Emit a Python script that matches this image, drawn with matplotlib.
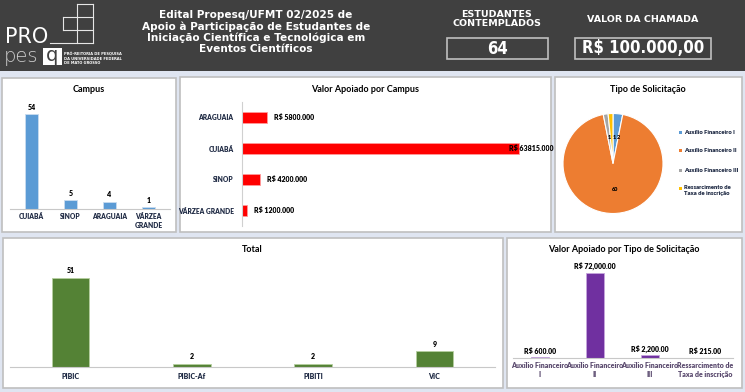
import matplotlib
matplotlib.use("Agg")
import matplotlib.pyplot as plt
from matplotlib.patches import Rectangle
from matplotlib.lines import Line2D
from matplotlib import font_manager as fm

# ---------------- data ----------------
campus_names = ["CUIABÁ", "SINOP", "ARAGUAIA", "VÁRZEA\nGRANDE"]
campus_counts = [54, 5, 4, 1]

valor_campus_names = ["ARAGUAIA", "CUIABÁ", "SINOP", "VÁRZEA GRANDE"]
valor_campus_values = [5800, 63815, 4200, 1200]
valor_campus_labels = ["R$ 5800.000", "R$ 63815.000", "R$ 4200.000", "R$ 1200.000"]

tipo_names = ["Auxílio Financeiro I", "Auxílio Financeiro II", "Auxílio Financeiro III",
              "Ressarcimento de\nTaxa de inscrição"]
tipo_counts = [2, 60, 1, 1]

total_names = ["PIBIC", "PIBIC-Af", "PIBITI", "VIC"]
total_counts = [51, 2, 2, 9]

valor_tipo_names = ["Auxílio Financeiro\nI", "Auxílio Financeiro\nII",
                    "Auxílio Financeiro\nIII", "Ressarcimento de\nTaxa de inscrição"]
valor_tipo_values = [600, 72000, 2200, 215]
valor_tipo_labels = ["R$ 600.00", "R$ 72,000.00", "R$ 2,200.00", "R$ 215.00"]

estudantes = "64"
valor_chamada = "R$ 100.000,00"
header_title = ("Edital Propesq/UFMT 02/2025 de\nApoio à Participação de Estudantes de\n"
                "Iniciação Científica e Tecnológica em\nEventos Científicos")

# ---------------- figure ----------------
W, H = 745, 392
fig = plt.figure(figsize=(W / 100, H / 100), dpi=100)
fig.patch.set_facecolor("#dfe5f1")
FONT = ["Lato", "DejaVu Sans"]
HFONT = ["DejaVu Sans"]
plt.rcParams["font.family"] = FONT
BW = "heavy"

# condensed font for header numbers if available
_p = fm.findfont(fm.FontProperties(family="DejaVu Sans", stretch="condensed",
                                   weight="bold"), fallback_to_default=True)
COND = "condensed" in _p.lower()


def fx(x):
    return x / W


def fy(y):
    return 1 - y / H


def rect_px(x, y, w, h):
    return [x / W, 1 - (y + h) / H, w / W, h / H]


def add_axes(r):
    a = fig.add_axes(r)
    a.set_zorder(5)
    a.set_facecolor("none")
    return a


def panel(x, y, w, h):
    fig.patches.append(Rectangle((x / W, 1 - (y + h) / H), w / W, h / H,
                                 transform=fig.transFigure, facecolor="white",
                                 edgecolor="#bfbfbf", linewidth=1.2, zorder=0))


# header
fig.patches.append(Rectangle((0, fy(71)), 1, 71 / H, transform=fig.transFigure,
                             facecolor="#404040", edgecolor="none", zorder=0))

# logo lines
lc = "#e6e6e6"
segs = [((77, 4), (77, 43)), ((93, 4), (93, 43)), ((77, 4), (93, 4)),
        ((63, 17), (93, 17)), ((63, 30), (93, 30)), ((63, 17), (63, 30)),
        ((50, 43), (93, 43))]
for (x0, y0), (x1, y1) in segs:
    fig.lines.append(Line2D([fx(x0), fx(x1)], [fy(y0), fy(y1)], transform=fig.transFigure,
                            color=lc, linewidth=0.8, zorder=2))
fig.text(fx(5), fy(43), "PRO", color="white", fontsize=15, family=HFONT,
         ha="left", va="baseline")
fig.text(fx(4), fy(62), "pes", color="#cfcfcf", fontsize=14, family=HFONT,
         fontweight="light", ha="left", va="baseline")
fig.patches.append(Rectangle((fx(43), fy(65)), 19 / W, 17 / H, transform=fig.transFigure,
                             facecolor="white", edgecolor="none", zorder=1))
fig.text(fx(52.5), fy(61), "q", color="#404040", fontsize=14, family=HFONT,
         ha="center", va="baseline")
fig.text(fx(64), fy(59), "PRÓ-REITORIA DE PESQUISA\nDA UNIVERSIDADE FEDERAL\nDE MATO GROSSO",
         color="white", fontsize=2.6, fontweight="bold", family=HFONT, ha="left",
         va="center", linespacing=1.1)

fig.text(fx(256), fy(32), header_title, color="white", fontsize=7.6, fontweight="bold",
         family=HFONT, ha="center", va="center", linespacing=1.12)
fig.text(fx(497), fy(19), "ESTUDANTES\nCONTEMPLADOS", color="white", fontsize=6.8,
         fontweight="bold", family=HFONT, ha="center", va="center", linespacing=1.05)
fig.text(fx(643), fy(19), "VALOR DA CHAMADA", color="white", fontsize=6.8,
         fontweight="bold", family=HFONT, ha="center", va="center")
for (x0, x1, txt) in [(447, 548, estudantes), (575, 711, valor_chamada)]:
    fig.patches.append(Rectangle((fx(x0), fy(59)), (x1 - x0) / W, 21 / H,
                                 transform=fig.transFigure, facecolor="none",
                                 edgecolor="#bfbfbf", linewidth=1.2, zorder=1))
    if COND:
        fig.text(fx((x0 + x1) / 2), fy(48.5), txt, color="white", fontsize=12,
                 fontweight="bold", family=HFONT, stretch="condensed",
                 ha="center", va="center")
    else:
        fig.text(fx((x0 + x1) / 2), fy(48.5), txt, color="white", fontsize=10.5,
                 fontweight="bold", family=HFONT, ha="center", va="center")

# panels
panel(2, 78, 174, 154)
panel(180, 77, 371, 155)
panel(555, 77, 187, 155)
panel(3, 238, 500, 150)
panel(507, 238, 235, 150)

TS = 6.5
LS = 4.8

# ---------------- Campus ----------------
fig.text(fx(89), fy(89), "Campus", fontsize=TS, fontweight="bold", ha="center", va="center")
ax = add_axes(rect_px(10, 100, 160, 109))
xs = range(len(campus_names))
ax.bar(xs, campus_counts, width=0.32, color="#5b9bd5", edgecolor="#c9dcf0", linewidth=0.6)
for x, v in zip(xs, campus_counts):
    ax.text(x, v + 2, str(v), ha="center", va="bottom", fontsize=5, fontweight=BW)
ax.set_xlim(-0.55, 3.55)
ax.set_ylim(0, 62)
ax.set_xticks(list(xs))
ax.set_xticklabels(campus_names, fontsize=LS, fontweight=BW, color="#1f2a44",
                   linespacing=1.3)
ax.tick_params(axis="x", length=0, pad=3)
ax.set_yticks([])
for s in ["top", "right", "left"]:
    ax.spines[s].set_visible(False)
ax.spines["bottom"].set_color("#c8c8c8")

# ---------------- Valor Apoiado por Campus ----------------
fig.text(fx(365), fy(89), "Valor Apoiado por Campus", fontsize=TS, fontweight="bold",
         ha="center", va="center")
ax = add_axes(rect_px(242, 102, 300, 124))
ys = range(len(valor_campus_names))
ax.barh(ys, valor_campus_values, height=0.36, color="#ff0000", edgecolor="#ff9a9a",
        linewidth=0.6)
for y, v, lab in zip(ys, valor_campus_values, valor_campus_labels):
    ax.text(v + 1500 if v < 60000 else v - 2500, y, lab, va="center", ha="left",
            fontsize=5, fontweight=BW)
ax.set_xlim(0, 69000)
ax.set_ylim(3.5, -0.5)
ax.set_yticks(list(ys))
ax.set_yticklabels(valor_campus_names, fontsize=LS, fontweight=BW, color="#1f2a44")
ax.tick_params(axis="y", length=0, pad=6)
ax.set_xticks([])
for s in ["top", "right", "bottom"]:
    ax.spines[s].set_visible(False)
ax.spines["left"].set_color("#d0d0d0")

# ---------------- Tipo de Solicitação ----------------
fig.text(fx(648), fy(90), "Tipo de Solicitação", fontsize=TS, fontweight="bold",
         ha="center", va="center")
ax = add_axes(rect_px(562, 112, 102, 103))
pie_colors = ["#5b9bd5", "#ed7d31", "#a5a5a5", "#ffc000"]
wedges, _ = ax.pie(tipo_counts, colors=pie_colors, startangle=90, counterclock=False,
                   wedgeprops=dict(edgecolor="white", linewidth=0.8))
ax.text(-0.07, 0.52, str(tipo_counts[2]), fontsize=4, fontweight=BW, ha="center",
        va="center")
ax.text(0.02, 0.52, str(tipo_counts[3]), fontsize=4, fontweight=BW, ha="center",
        va="center")
ax.text(0.11, 0.52, str(tipo_counts[0]), fontsize=4, fontweight=BW, ha="center",
        va="center")
ax.text(0.04, -0.52, str(tipo_counts[1]), fontsize=4, fontweight=BW, ha="center",
        va="center")
ax.set_xlim(-1.02, 1.02)
ax.set_ylim(-1.02, 1.02)
ax.set_aspect("equal")
leg_y = [132, 151, 170, 188]
for yy, col, name in zip(leg_y, pie_colors, tipo_names):
    fig.patches.append(Rectangle((fx(679), fy(yy + 1.5)), 3 / W, 3 / H,
                                 transform=fig.transFigure, facecolor=col,
                                 edgecolor="none", zorder=2))
    if "\n" in name:
        fig.text(fx(684), fy(185), name, fontsize=4.2, fontweight=BW, ha="left",
                 va="top", color="#1f2a44", linespacing=1.3)
    else:
        fig.text(fx(684), fy(yy), name, fontsize=4.2, fontweight=BW, ha="left",
                 va="center", color="#1f2a44")

# ---------------- Total ----------------
fig.text(fx(252), fy(250), "Total", fontsize=TS, fontweight="bold", ha="center",
         va="center")
ax = add_axes(rect_px(10, 262, 485, 105))
xs = range(len(total_names))
ax.bar(xs, total_counts, width=0.31, color="#548235", edgecolor="#b5cfa0", linewidth=0.6)
for x, v in zip(xs, total_counts):
    ax.text(x, v + 2, str(v), ha="center", va="bottom", fontsize=5, fontweight=BW)
ax.set_xlim(-0.5, 3.5)
ax.set_ylim(0, 60)
ax.set_xticks(list(xs))
ax.set_xticklabels(total_names, fontsize=LS + 0.2, fontweight=BW, color="#1f2a44")
ax.tick_params(axis="x", length=0, pad=4)
ax.set_yticks([])
for s in ["top", "right", "left"]:
    ax.spines[s].set_visible(False)
ax.spines["bottom"].set_color("#c8c8c8")

# ---------------- Valor Apoiado por Tipo ----------------
fig.text(fx(624), fy(250), "Valor Apoiado por Tipo de Solicitação", fontsize=TS,
         fontweight="bold", ha="center", va="center")
ax = add_axes(rect_px(512.5, 262, 220, 96))
xs = range(len(valor_tipo_names))
ax.bar(xs, valor_tipo_values, width=0.31, color="#7030a0", edgecolor="#c6a5dd",
       linewidth=0.6)
for x, v, lab in zip(xs, valor_tipo_values, valor_tipo_labels):
    ax.text(x, v + 2200, lab, ha="center", va="bottom", fontsize=5, fontweight=BW)
ax.set_xlim(-0.5, 3.5)
ax.set_ylim(0, 81000)
ax.set_xticks(list(xs))
ax.set_xticklabels(valor_tipo_names, fontsize=5, fontweight=BW,
                   color="#5a4a6e", linespacing=1.3)
ax.tick_params(axis="x", length=0, pad=3)
ax.set_yticks([])
for s in ["top", "right", "left"]:
    ax.spines[s].set_visible(False)
ax.spines["bottom"].set_color("#c8c8c8")

fig.savefig("out.png", dpi=100)
